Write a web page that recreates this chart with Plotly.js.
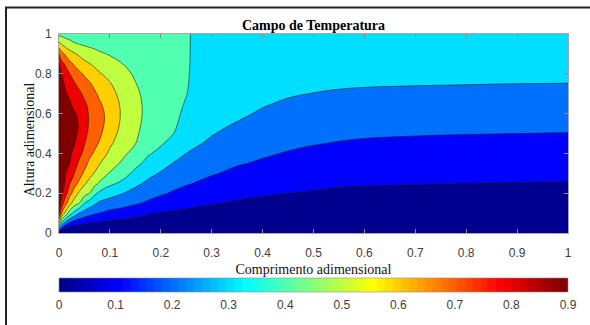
<!DOCTYPE html>
<html>
<head>
<meta charset="utf-8">
<script src="https://cdn.plot.ly/plotly-3.0.1.min.js"></script>
<style>
html,body{margin:0;padding:0;background:#ffffff;}
#chart{width:590px;height:325px;}
</style>
</head>
<body>
<div id="chart"></div>
<script>
// ---- data ----
// grid positions (dimensionless length and height)
const xPos = [0, 0.005, 0.01, 0.02, 0.03, 0.04, 0.05, 0.06, 0.07, 0.08, 0.1, 0.125, 0.15, 0.175, 0.2, 0.225, 0.25, 0.275, 0.3, 0.35, 0.4, 0.45, 0.5, 0.55, 0.6, 0.7, 0.8, 0.9, 1.0];
const yPos = [0, 0.025, 0.05, 0.1, 0.15, 0.2, 0.25, 0.3, 0.35, 0.4, 0.45, 0.5, 0.55, 0.6, 0.65, 0.7, 0.75, 0.8, 0.85, 0.9, 0.95, 1.0];

// temperature profiles, one per x position, listed from y = 0 to y = 1
const T_x0000 = [0, 0.35, 0.6, 0.9, 0.93, 0.945, 0.95, 0.95, 0.95, 0.95, 0.95, 0.95, 0.95, 0.95, 0.95, 0.95, 0.95, 0.94, 0.91, 0.8, 0.63, 0.47];
const T_x0005 = [0, 0.2, 0.4, 0.714, 0.88, 0.915, 0.93, 0.935, 0.935, 0.935, 0.935, 0.935, 0.935, 0.935, 0.935, 0.935, 0.92, 0.9, 0.83, 0.733, 0.595, 0.47];
const T_x0010 = [0, 0.13, 0.3, 0.62, 0.775, 0.88, 0.91, 0.92, 0.925, 0.925, 0.925, 0.925, 0.925, 0.925, 0.92, 0.91, 0.9, 0.856, 0.8, 0.7, 0.57, 0.46];
const T_x0020 = [0, 0.077, 0.19, 0.467, 0.643, 0.746, 0.815, 0.865, 0.905, 0.915, 0.922, 0.925, 0.925, 0.922, 0.912, 0.891, 0.849, 0.806, 0.731, 0.644, 0.538, 0.45];
const T_x0030 = [0, 0.064, 0.144, 0.368, 0.55, 0.66, 0.738, 0.802, 0.843, 0.884, 0.905, 0.915, 0.915, 0.908, 0.882, 0.846, 0.811, 0.755, 0.688, 0.611, 0.51, 0.445];
const T_x0040 = [0, 0.06, 0.127, 0.3, 0.5, 0.583, 0.68, 0.735, 0.78, 0.83, 0.865, 0.888, 0.895, 0.885, 0.86, 0.82, 0.769, 0.718, 0.655, 0.583, 0.497, 0.44];
const T_x0050 = [0, 0.054, 0.11, 0.262, 0.4, 0.538, 0.614, 0.686, 0.731, 0.77, 0.805, 0.825, 0.835, 0.83, 0.815, 0.778, 0.735, 0.688, 0.625, 0.557, 0.487, 0.435];
const T_x0060 = [0, 0.05, 0.1, 0.232, 0.353, 0.5, 0.571, 0.631, 0.68, 0.72, 0.755, 0.78, 0.79, 0.79, 0.775, 0.745, 0.71, 0.657, 0.603, 0.539, 0.48, 0.43];
const T_x0070 = [0, 0.045, 0.092, 0.213, 0.316, 0.422, 0.529, 0.594, 0.643, 0.69, 0.72, 0.745, 0.758, 0.76, 0.745, 0.715, 0.676, 0.631, 0.583, 0.524, 0.475, 0.432];
const T_x0080 = [0, 0.04, 0.088, 0.2, 0.283, 0.378, 0.489, 0.55, 0.604, 0.648, 0.691, 0.715, 0.73, 0.728, 0.71, 0.679, 0.643, 0.607, 0.561, 0.512, 0.465, 0.43];
const T_x0100 = [0, 0.035, 0.077, 0.174, 0.258, 0.339, 0.421, 0.493, 0.539, 0.583, 0.615, 0.64, 0.66, 0.665, 0.655, 0.635, 0.607, 0.572, 0.532, 0.493, 0.46, 0.43];
const T_x0125 = [0, 0.03, 0.068, 0.155, 0.237, 0.303, 0.381, 0.437, 0.485, 0.52, 0.548, 0.568, 0.58, 0.585, 0.58, 0.565, 0.545, 0.522, 0.5, 0.478, 0.455, 0.43];
const T_x0150 = [0, 0.027, 0.06, 0.131, 0.211, 0.267, 0.322, 0.378, 0.425, 0.467, 0.502, 0.515, 0.522, 0.525, 0.523, 0.515, 0.503, 0.49, 0.475, 0.46, 0.447, 0.435];
const T_x0175 = [0, 0.025, 0.053, 0.11, 0.185, 0.236, 0.282, 0.327, 0.373, 0.41, 0.44, 0.46, 0.472, 0.478, 0.478, 0.474, 0.468, 0.462, 0.455, 0.45, 0.445, 0.44];
const T_x0200 = [0, 0.023, 0.048, 0.097, 0.158, 0.212, 0.252, 0.292, 0.333, 0.375, 0.41, 0.428, 0.44, 0.447, 0.45, 0.45, 0.448, 0.445, 0.442, 0.44, 0.437, 0.435];
const T_x0225 = [0, 0.0215, 0.044, 0.088, 0.138, 0.19, 0.228, 0.262, 0.297, 0.331, 0.366, 0.4, 0.415, 0.418, 0.42, 0.422, 0.422, 0.422, 0.421, 0.42, 0.42, 0.42];
const T_x0250 = [0, 0.02, 0.041, 0.081, 0.124, 0.169, 0.209, 0.239, 0.27, 0.3, 0.325, 0.345, 0.368, 0.385, 0.395, 0.402, 0.405, 0.406, 0.407, 0.407, 0.407, 0.407];
const T_x0275 = [0, 0.0188, 0.0376, 0.075, 0.113, 0.153, 0.192, 0.222, 0.25, 0.278, 0.305, 0.325, 0.342, 0.355, 0.365, 0.372, 0.377, 0.381, 0.383, 0.384, 0.385, 0.385];
const T_x0300 = [0, 0.017, 0.035, 0.07, 0.105, 0.14, 0.175, 0.208, 0.235, 0.26, 0.285, 0.305, 0.32, 0.335, 0.347, 0.357, 0.365, 0.371, 0.375, 0.377, 0.378, 0.379];
const T_x0350 = [0, 0.015, 0.03, 0.061, 0.091, 0.121, 0.151, 0.18, 0.207, 0.23, 0.252, 0.273, 0.296, 0.315, 0.33, 0.345, 0.356, 0.365, 0.371, 0.375, 0.377, 0.378];
const T_x0400 = [0, 0.0135, 0.027, 0.054, 0.081, 0.109, 0.136, 0.163, 0.19, 0.21, 0.23, 0.25, 0.27, 0.29, 0.307, 0.323, 0.338, 0.351, 0.36, 0.367, 0.371, 0.373];
const T_x0450 = [0, 0.0125, 0.025, 0.05, 0.075, 0.1005, 0.124, 0.148, 0.172, 0.195, 0.215, 0.234, 0.253, 0.272, 0.29, 0.308, 0.323, 0.336, 0.347, 0.355, 0.36, 0.362];
const T_x0500 = [0, 0.0118, 0.0235, 0.047, 0.07, 0.094, 0.1165, 0.139, 0.161, 0.182, 0.204, 0.224, 0.243, 0.262, 0.28, 0.2985, 0.313, 0.327, 0.338, 0.347, 0.353, 0.356];
const T_x0550 = [0, 0.011, 0.0219, 0.0439, 0.0658, 0.0877, 0.1095, 0.131, 0.153, 0.174, 0.196, 0.215, 0.235, 0.254, 0.273, 0.292, 0.31, 0.325, 0.337, 0.346, 0.352, 0.355];
const T_x0600 = [0, 0.0106, 0.0213, 0.0426, 0.064, 0.085, 0.106, 0.128, 0.149, 0.17, 0.19, 0.21, 0.23, 0.249, 0.268, 0.288, 0.307, 0.323, 0.336, 0.346, 0.352, 0.355];
const T_x0700 = [0, 0.0102, 0.0205, 0.041, 0.0615, 0.082, 0.1025, 0.123, 0.144, 0.164, 0.185, 0.205, 0.225, 0.245, 0.265, 0.285, 0.304, 0.321, 0.335, 0.345, 0.352, 0.355];
const T_x0800 = [0, 0.01, 0.02, 0.04, 0.06, 0.08, 0.1, 0.12, 0.141, 0.161, 0.181, 0.202, 0.222, 0.242, 0.262, 0.282, 0.302, 0.32, 0.334, 0.345, 0.352, 0.355];
const T_x0900 = [0, 0.0098, 0.0197, 0.0394, 0.059, 0.0787, 0.098, 0.119, 0.139, 0.159, 0.18, 0.2, 0.22, 0.24, 0.26, 0.28, 0.3, 0.318, 0.333, 0.344, 0.351, 0.354];
const T_x1000 = [0, 0.0097, 0.0195, 0.039, 0.058, 0.078, 0.097, 0.117, 0.137, 0.157, 0.177, 0.198, 0.218, 0.238, 0.258, 0.279, 0.299, 0.318, 0.333, 0.344, 0.351, 0.354];

const temperatureColumns = [T_x0000, T_x0005, T_x0010, T_x0020, T_x0030, T_x0040, T_x0050, T_x0060, T_x0070,
  T_x0080, T_x0100, T_x0125, T_x0150, T_x0175, T_x0200, T_x0225, T_x0250, T_x0275, T_x0300, T_x0350,
  T_x0400, T_x0450, T_x0500, T_x0550, T_x0600, T_x0700, T_x0800, T_x0900, T_x1000];

const levelStart = 0.1, levelEnd = 0.9, levelStep = 0.1;
const colorMin = 0, colorMax = 0.9;
const xTicks = [0, 0.1, 0.2, 0.3, 0.4, 0.5, 0.6, 0.7, 0.8, 0.9, 1];
const yTicks = [0, 0.2, 0.4, 0.6, 0.8, 1];
const cbTicks = [0, 0.1, 0.2, 0.3, 0.4, 0.5, 0.6, 0.7, 0.8, 0.9];

// ---- style ----
// MATLAB jet(64)
function jet64() {
  const m = 64, n = 16, u = [];
  for (let i = 1; i <= n; i++) u.push(i / n);
  for (let i = 1; i < n; i++) u.push(1);
  for (let i = n; i >= 1; i--) u.push(i / n);
  const J = Array.from({length: m}, () => [0, 0, 0]);
  for (let k = 0; k < u.length; k++) {
    const g = 9 + k, r = g + n, b = g - n;
    if (g >= 1 && g <= m) J[g - 1][1] = u[k];
    if (r >= 1 && r <= m) J[r - 1][0] = u[k];
    if (b >= 1 && b <= m) J[b - 1][2] = u[k];
  }
  return J.map(c => 'rgb(' + c.map(v => Math.round(v * 255)).join(',') + ')');
}
const JET = jet64();
const steppedJet = [];
JET.forEach((c, i) => { steppedJet.push([i / 64, c]); steppedJet.push([(i + 1) / 64, c]); });

// fill colour of each band = colormap colour at the band's lower level (MATLAB contourf)
const bandLevels = [0, 0.1, 0.2, 0.3, 0.4, 0.5, 0.6, 0.7, 0.8, 0.9];
const bandScale = bandLevels.map((lv, k) => {
  const idx = Math.min(63, Math.floor((lv - colorMin) / (colorMax - colorMin) * 64 + 1e-9));
  return [k / (bandLevels.length - 1), JET[idx]];
});

const serif = 'Liberation Serif, Times New Roman, serif';
const sans = 'Liberation Sans, Arial, sans-serif';

const traces = [
  {
    type: 'contour', x: xPos, y: yPos, z: temperatureColumns, transpose: true,
    autocontour: false,
    contours: {start: levelStart, end: levelEnd, size: levelStep, coloring: 'fill'},
    colorscale: bandScale, showscale: false,
    line: {color: '#1e1e1e', width: 0.6, smoothing: 1.3},
    hoverinfo: 'skip'
  },
  {
    // transparent copy of the field: provides the continuous jet colour bar
    type: 'heatmap', x: xPos, y: yPos, z: temperatureColumns, transpose: true,
    xaxis: 'x2', yaxis: 'y2',
    zmin: colorMin, zmax: colorMax, colorscale: steppedJet, opacity: 0, hoverinfo: 'skip',
    showscale: true,
    colorbar: {
      orientation: 'h', x: 0.5, xanchor: 'center', y: -0.2277, yanchor: 'top',
      len: 1, lenmode: 'fraction', thickness: 14, thicknessmode: 'pixels',
      xpad: 0, ypad: 0, outlinewidth: 0.6, outlinecolor: '#8c8c8c',
      tickvals: cbTicks, ticks: 'outside', ticklen: 3, tickcolor: 'rgba(0,0,0,0)',
      tickfont: {family: sans, size: 12, color: '#404040'}
    }
  }
];

const tickFont = {family: sans, size: 12, color: '#404040'};
const frameColor = '#a8a8a8';

const layout = {
  width: 590, height: 325,
  margin: {l: 59, r: 22, t: 34, b: 89, pad: 0},
  paper_bgcolor: '#ffffff', plot_bgcolor: '#ffffff',
  showlegend: false,
  title: {
    text: 'Campo de Temperatura', x: 0.5, xref: 'paper', xanchor: 'center',
    y: 1 - 25 / 325, yref: 'container', yanchor: 'middle',
    font: {family: serif, size: 14, color: '#000000', weight: 'bold'}
  },
  // label axes (invisible outside ticks only push the labels away)
  xaxis: {
    range: [0, 1], tickvals: xTicks, ticks: 'outside', ticklen: 9, tickcolor: 'rgba(0,0,0,0)',
    showline: true, linecolor: frameColor, linewidth: 1, mirror: true,
    showgrid: false, zeroline: false, tickfont: tickFont,
    title: {text: 'Comprimento adimensional', standoff: 4, font: {family: serif, size: 14, color: '#111111'}}
  },
  yaxis: {
    range: [0, 1], tickvals: yTicks, ticks: 'outside', ticklen: 4, tickcolor: 'rgba(0,0,0,0)',
    showline: true, linecolor: frameColor, linewidth: 1, mirror: true,
    showgrid: false, zeroline: false, tickfont: tickFont
  },
  // tick axes: MATLAB-style inside ticks on all four sides
  xaxis2: {
    overlaying: 'x', anchor: 'y2', range: [0, 1], tickvals: xTicks,
    ticks: 'inside', ticklen: 4, tickcolor: '#8a8a8a', tickwidth: 1,
    showticklabels: false, showline: true, linecolor: frameColor, mirror: 'ticks',
    showgrid: false, zeroline: false
  },
  yaxis2: {
    overlaying: 'y', anchor: 'x2', range: [0, 1], tickvals: yTicks,
    ticks: 'inside', ticklen: 4, tickcolor: '#8a8a8a', tickwidth: 1,
    showticklabels: false, showline: true, linecolor: frameColor, mirror: 'ticks',
    showgrid: false, zeroline: false
  },
  annotations: [{
    text: 'Altura adimensional', textangle: -90, showarrow: false,
    xref: 'paper', yref: 'paper', x: (29 - 59) / 509, y: 0.47,
    xanchor: 'center', yanchor: 'middle',
    font: {family: serif, size: 14, color: '#111111'}
  }],
  shapes: [{
    type: 'rect', xref: 'paper', yref: 'paper',
    x0: (6 - 59) / 509, x1: 1.5, y0: -1, y1: (236 - 7) / 202,
    line: {color: '#222222', width: 2}, fillcolor: 'rgba(0,0,0,0)', layer: 'below'
  }]
};

Plotly.newPlot('chart', traces, layout, {staticPlot: true, displayModeBar: false});
</script>
</body>
</html>
